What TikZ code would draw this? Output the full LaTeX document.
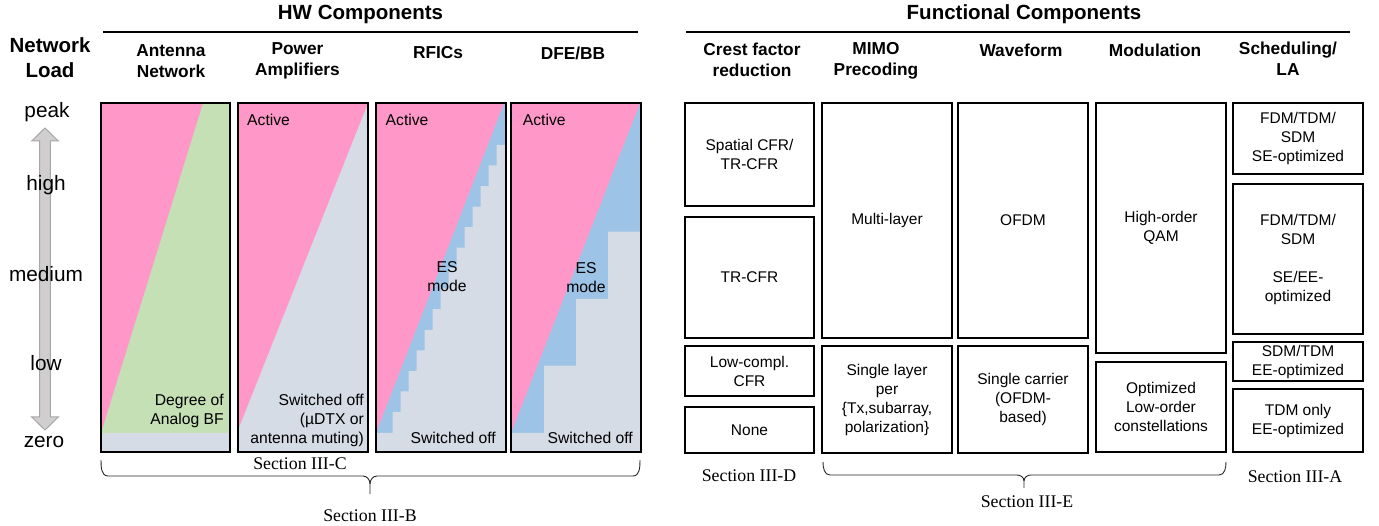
\documentclass[tikz,border=0pt]{standalone}
\usepackage{fontspec}
\setmainfont{Liberation Sans}
\newfontfamily\secfont{Liberation Serif}
\definecolor{pinkc}{HTML}{FF97C8}
\definecolor{greenc}{HTML}{C5E0B4}
\definecolor{grayc}{HTML}{D6DCE5}
\definecolor{bluec}{HTML}{9DC3E6}
\definecolor{arrfill}{HTML}{D0CECE}
\definecolor{arrdraw}{HTML}{A6A6A6}
\begin{document}
\begin{tikzpicture}[x=1pt,y=-1pt,
  body/.style={font=\fontsize{15.7}{19}\selectfont, align=center, inner sep=0pt},
  hdr/.style={font=\bfseries\fontsize{17.3}{21}\selectfont, align=center, inner sep=0pt},
  ttl/.style={font=\bfseries\fontsize{20.5}{24}\selectfont, inner sep=0pt},
  lvl/.style={font=\fontsize{20.8}{24}\selectfont, inner sep=0pt},
  sec/.style={font=\secfont\fontsize{17.8}{20}\selectfont, inner sep=0pt},
  panel/.style={draw=black, line width=1.8pt, inner sep=0pt, minimum height=349pt},
  fbox/.style={draw=black, line width=1.5pt, inner sep=0pt, align=center, font=\fontsize{15.5}{19}\selectfont},
  brace/.style={draw=black!85, line width=0.9pt},
  rule/.style={draw=black, line width=2pt},
]
\useasboundingbox (0,0) rectangle (1379,526);

% ---------- titles ----------
\node[ttl] (hwt) at (360.5,14) {HW Components};
\node[ttl] (fct) at (1024,14) {Functional Components};
\coordinate (hwl) at (103,32); \coordinate (hwr) at (638,32);
\coordinate (fcl) at (686,32); \coordinate (fcr) at (1350,32);
\draw[rule] (hwl) -- (hwr);
\draw[rule] (fcl) -- (fcr);

% ---------- column headers ----------
\node[font=\bfseries\fontsize{20.5}{25}\selectfont, align=center, inner sep=0pt] (nl) at (50,58) {Network\\Load};
\node[hdr] (h1) at (171,61) {Antenna\\Network};
\node[hdr] (h2) at (297.5,61) {Power\\Amplifiers};
\node[hdr] (h3) at (438,53) {RFICs};
\node[hdr] (h4) at (573,53) {DFE/BB};
\node[hdr] (h5) at (752,60) {Crest factor\\reduction};
\node[hdr] (h6) at (876,61) {MIMO\\Precoding};
\node[hdr] (h7) at (1021,50) {Waveform};
\node[hdr] (h8) at (1155,50.5) {Modulation};
\node[hdr] (h9) at (1288,59) {Scheduling/\\LA};

% ---------- load axis ----------
\draw[fill=arrfill, draw=arrdraw, line width=1pt]
  (45,128) -- (58.3,141) -- (50.3,141) -- (50.3,417) -- (58.3,417) -- (45,430)
  -- (31.7,417) -- (39.7,417) -- (39.7,141) -- (31.7,141) -- cycle;
\node[lvl] (peak) at (47,112) {peak};
\node[lvl] (high) at (46,185) {high};
\node[lvl] (med) at (46,274) {medium};
\node[lvl] (low) at (46,363) {low};
\node[lvl] (zero) at (44,442) {zero};

% ---------- Antenna network ----------
\fill[grayc] (101,103) rectangle (230,452);
\fill[greenc] (101,103) rectangle (230,433);
\fill[pinkc] (101,103) -- (203,103) -- (101,433) -- cycle;
\node[panel, minimum width=129pt] (ant) at (165.5,277.5) {};
\node[body, align=right, anchor=east] (antt) at (224,410.5) {Degree of\\Analog BF};

% ---------- Power amplifiers ----------
\fill[grayc] (238,103) rectangle (368,452);
\fill[pinkc] (238,103) -- (368,103) -- (238,430) -- cycle;
\node[panel, minimum width=130pt] (pa) at (303,277.5) {};
\node[body, anchor=west] (paa) at (247,120) {Active};
\node[body, align=right, anchor=east] (pas) at (364,420.5) {Switched off\\(µDTX or\\antenna muting)};

% ---------- RFICs ----------
\fill[bluec] (376,103) rectangle (506,433);
\fill[pinkc] (376,103) -- (504,103) -- (376,433) -- cycle;
\fill[grayc] (506,145) -- (496.7,145) -- (496.7,165.5) -- (488.7,165.5) -- (488.7,186.1)
  -- (480.7,186.1) -- (480.7,206.6) -- (472.7,206.6) -- (472.7,227.1) -- (464.7,227.1)
  -- (464.7,247.7) -- (456.7,247.7) -- (456.7,268.2) -- (448.7,268.2) -- (448.7,288.7)
  -- (440.7,288.7) -- (440.7,309.2) -- (432.7,309.2) -- (432.7,329.8) -- (424.7,329.8)
  -- (424.7,350.3) -- (416.7,350.3) -- (416.7,370.8) -- (408.7,370.8) -- (408.7,391.4)
  -- (400.7,391.4) -- (400.7,411.9) -- (392.7,411.9) -- (392.7,433) -- (376,433)
  -- (376,452) -- (506,452) -- cycle;
\node[panel, minimum width=130pt] (rf) at (441,277.5) {};
\node[body, anchor=west] (rfa) at (385.5,120) {Active};
\node[body] (rfe) at (447,277) {ES\\mode};
\node[body, anchor=east] (rfs) at (496,438) {Switched off};

% ---------- DFE/BB ----------
\fill[bluec] (511,103) rectangle (641,433);
\fill[pinkc] (511,103) -- (640,103) -- (511,433) -- cycle;
\fill[grayc] (641,231.7) -- (608,231.7) -- (608,299) -- (576,299) -- (576,365.7)
  -- (544,365.7) -- (544,433) -- (511,433) -- (511,452) -- (641,452) -- cycle;
\node[panel, minimum width=130pt] (dfe) at (576,277.5) {};
\node[body, anchor=west] (dfa) at (522.7,120) {Active};
\node[body] (dfm) at (586,278) {ES\\mode};
\node[body, anchor=east] (dfs) at (633,438) {Switched off};

% ---------- Functional boxes ----------
\node[fbox, minimum width=129pt, minimum height=103pt] (c1) at (749.5,154.5) {Spatial CFR/\\TR-CFR};
\node[fbox, minimum width=129pt, minimum height=121pt] (c2) at (749.5,277.5) {TR-CFR};
\node[fbox, minimum width=129pt, minimum height=50pt] (c3) at (749.5,371) {Low-compl.\\CFR};
\node[fbox, minimum width=129pt, minimum height=46pt] (c4) at (749.5,430) {None};

\node[fbox, minimum width=130pt, minimum height=235pt] (m1) at (887,220.5) {Multi-layer};
\node[fbox, minimum width=130pt, minimum height=107pt] (m2) at (887,399.5) {Single layer\\per\\\{Tx,subarray,\\polarization\}};

\node[fbox, minimum width=130pt, minimum height=235pt] (w1) at (1023,220.5) {OFDM};
\node[fbox, minimum width=130pt, minimum height=107pt] (w2) at (1023,399.5) {Single carrier\\(OFDM-\\based)};

\node[fbox, minimum width=130pt, minimum height=250pt] (q1) at (1161,228) {High-order\\QAM};
\node[fbox, minimum width=130pt, minimum height=90pt] (q2) at (1161,407) {Optimized\\Low-order\\constellations};

\node[fbox, minimum width=130pt, minimum height=71pt] (s1) at (1298,138.5) {FDM/TDM/\\SDM\\SE-optimized};
\node[fbox, minimum width=130pt, minimum height=150pt] (s2) at (1298,259) {FDM/TDM/\\SDM\\[19pt]SE/EE-\\optimized};
\node[fbox, minimum width=130pt, minimum height=39pt] (s3) at (1298,361.5) {SDM/TDM\\EE-optimized};
\node[fbox, minimum width=130pt, minimum height=63pt] (s4) at (1298,420.5) {TDM only\\EE-optimized};

% ---------- section labels and braces ----------
\node[sec] (sc) at (300,464) {Section III-C};
\node[sec] (sb) at (370,516) {Section III-B};
\node[sec] (sd) at (749,476) {Section III-D};
\node[sec] (se) at (1027,502) {Section III-E};
\node[sec] (sa) at (1295,477) {Section III-A};

\draw[brace] (101,460) to[out=-90,in=180] (108,476) -- (363,476)
  to[out=0,in=90] (370,484) -- (370,494);
\draw[brace] (370,484) to[out=90,in=180] (377,476) -- (633,476) to[out=0,in=-90] (640,460);

\draw[brace] (823,462) to[out=-90,in=180] (830,475) -- (1017,475)
  to[out=0,in=90] (1024,481) -- (1024,488);
\draw[brace] (1024,481) to[out=90,in=180] (1031,475) -- (1219,475) to[out=0,in=-90] (1226,462);
\end{tikzpicture}
\end{document}
